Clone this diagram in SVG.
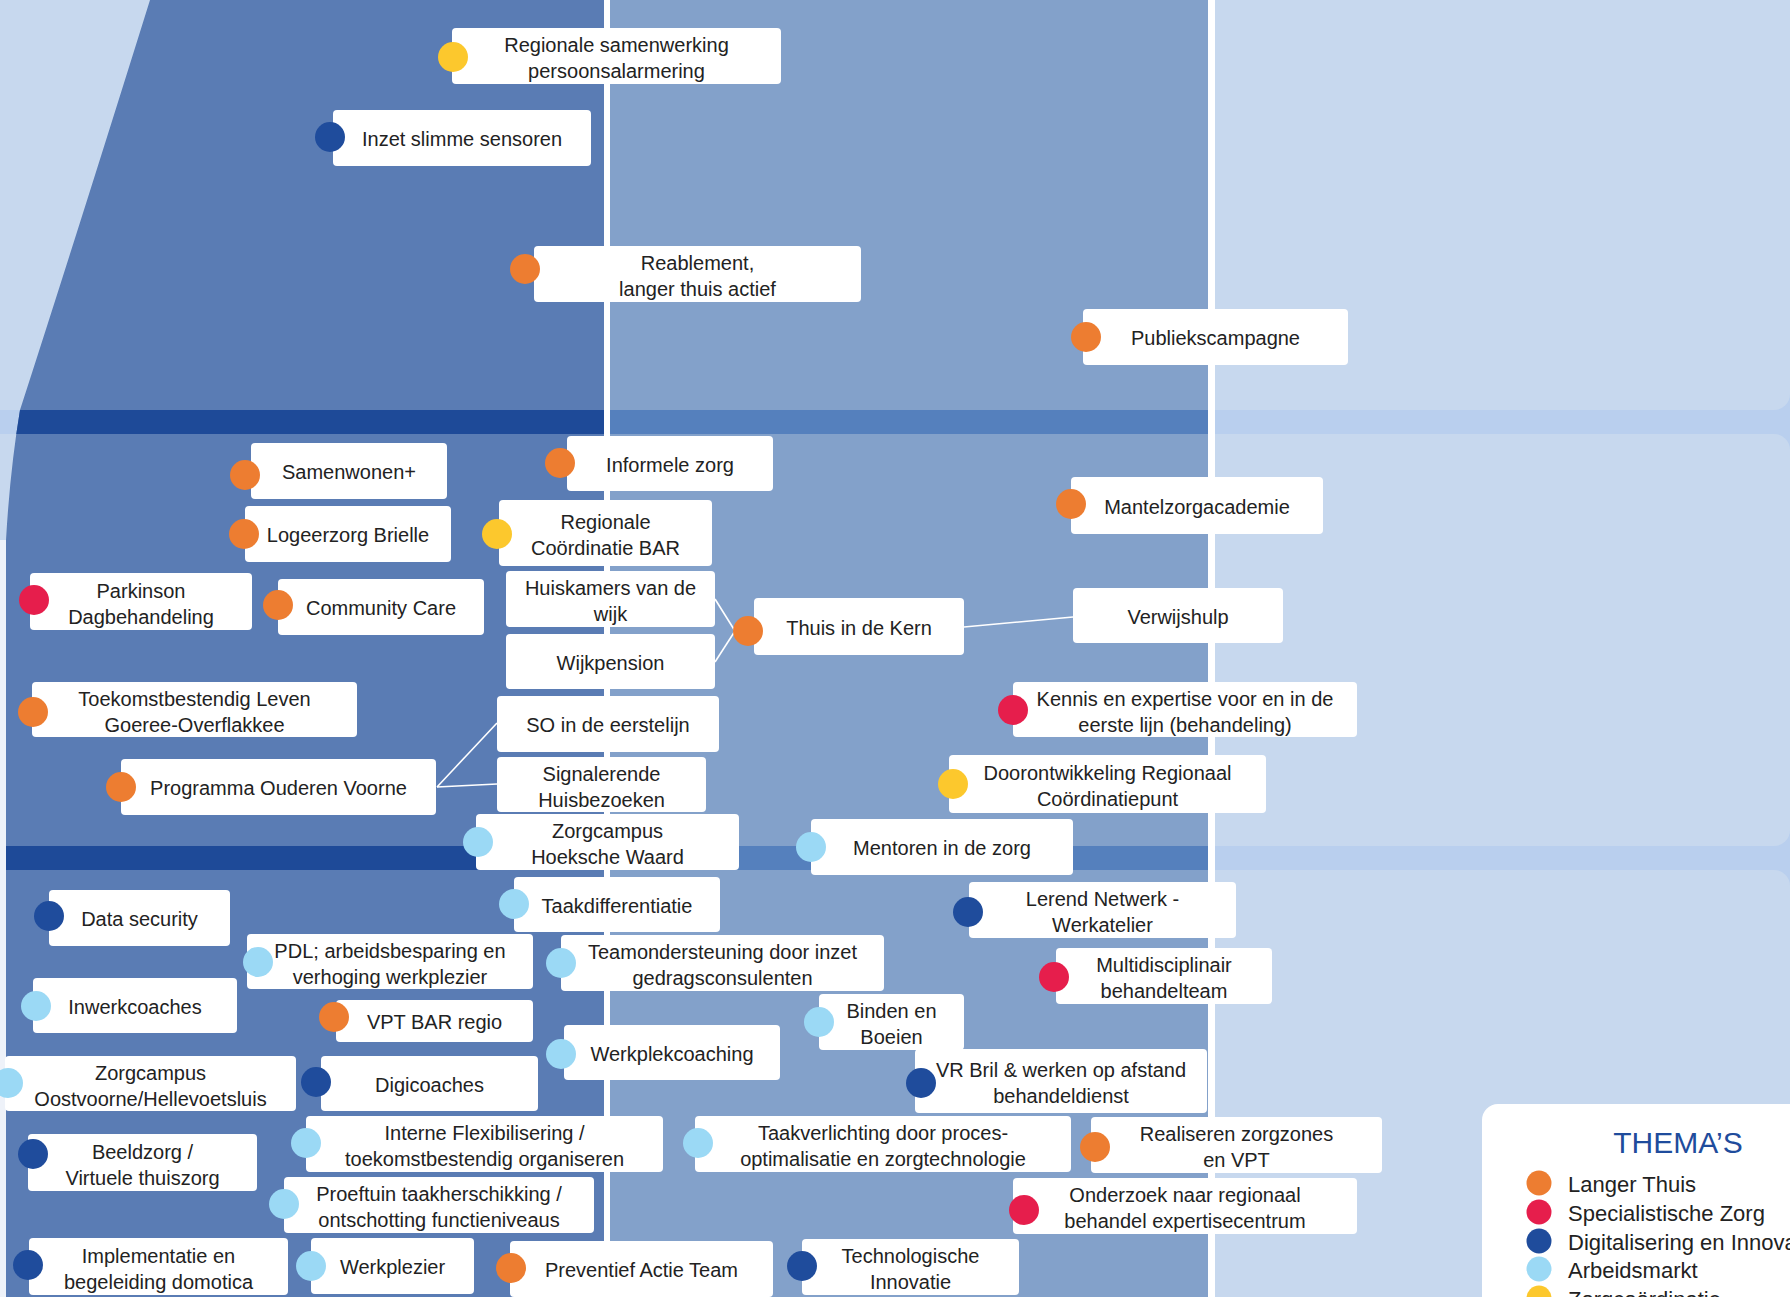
<svg xmlns="http://www.w3.org/2000/svg" width="1790" height="1297" viewBox="0 0 1790 1297">
<style>
.box{fill:#ffffff}
.t{font-family:"Liberation Sans",Arial,sans-serif;font-size:20px;fill:#222222;text-anchor:middle}
.o{fill:#ed7d31}.r{fill:#e61e4c}.db{fill:#1f4c9c}.lb{fill:#9bd9f5}.y{fill:#fcc82d}
.lg{font-family:"Liberation Sans",Arial,sans-serif;font-size:22px;fill:#222222}
.conn{stroke:#ffffff;stroke-width:1.6;fill:none}
</style>
<defs>
<clipPath id="leftClip"><path d="M150,0 L604,0 L604,1297 L6,1297 L6,540 Q10,470 20,410 Q75,240 150,0 Z"/></clipPath>
</defs>
<g id="background">
<rect x="0" y="0" width="1790" height="1297" fill="#b9cfee"/>
<rect x="0" y="0" width="1100" height="410" fill="#c7d8ee"/>
<rect x="0" y="434" width="1100" height="412" fill="#c7d8ee"/>
<rect x="0" y="870" width="1100" height="427" fill="#c7d8ee"/>
<rect x="1000" y="-30" width="790" height="440" rx="16" fill="#c7d8ee"/>
<rect x="1000" y="434" width="790" height="412" rx="16" fill="#c7d8ee"/>
<rect x="1000" y="870" width="790" height="460" rx="16" fill="#c7d8ee"/>
<rect x="0" y="540" width="6" height="757" fill="#eef2f9"/>
<rect x="610" y="0" width="598" height="1297" fill="#83a1ca"/>
<rect x="610" y="410" width="598" height="24" fill="#5580bd"/>
<rect x="610" y="846" width="598" height="24" fill="#5580bd"/>
<g clip-path="url(#leftClip)">
<rect x="0" y="0" width="610" height="1297" fill="#5a7cb4"/>
<rect x="0" y="410" width="610" height="24" fill="#1e4a98"/>
<rect x="0" y="846" width="610" height="24" fill="#1e4a98"/>
</g>
<rect x="604" y="0" width="6" height="1297" fill="#ffffff"/>
<rect x="1208" y="0" width="7" height="1297" fill="#ffffff"/>
</g>
<g id="connectors">
<line class="conn" x1="715" y1="599" x2="735" y2="631"/>
<line class="conn" x1="715" y1="662" x2="735" y2="631"/>
<line class="conn" x1="964" y1="627" x2="1073" y2="617"/>
<line class="conn" x1="437" y1="787" x2="497" y2="723"/>
<line class="conn" x1="437" y1="787" x2="497" y2="784"/>
</g>
<g id="n1"><rect class="box" x="452" y="28" width="329" height="56" rx="4"/><circle class="y" cx="453" cy="57" r="15"/><text class="t"><tspan x="616.5" y="52">Regionale samenwerking</tspan><tspan x="616.5" y="78">persoonsalarmering</tspan></text></g>
<g id="n2"><rect class="box" x="333" y="110" width="258" height="56" rx="4"/><circle class="db" cx="330" cy="137" r="15"/><text class="t" x="462" y="146">Inzet slimme sensoren</text></g>
<g id="n3"><rect class="box" x="534" y="246" width="327" height="56" rx="4"/><circle class="o" cx="525" cy="269" r="15"/><text class="t"><tspan x="697.5" y="270">Reablement,</tspan><tspan x="697.5" y="296">langer thuis actief</tspan></text></g>
<g id="n4"><rect class="box" x="1083" y="309" width="265" height="56" rx="4"/><circle class="o" cx="1086" cy="337" r="15"/><text class="t" x="1215.5" y="345">Publiekscampagne</text></g>
<g id="n5"><rect class="box" x="251" y="443" width="196" height="56" rx="4"/><circle class="o" cx="245" cy="475" r="15"/><text class="t" x="349" y="479">Samenwonen+</text></g>
<g id="n6"><rect class="box" x="567" y="436" width="206" height="55" rx="4"/><circle class="o" cx="560" cy="463" r="15"/><text class="t" x="670" y="471.5">Informele zorg</text></g>
<g id="n7"><rect class="box" x="1071" y="477" width="252" height="57" rx="4"/><circle class="o" cx="1071" cy="504" r="15"/><text class="t" x="1197" y="513.5">Mantelzorgacademie</text></g>
<g id="n8"><rect class="box" x="245" y="506" width="206" height="56" rx="4"/><circle class="o" cx="244" cy="534" r="15"/><text class="t" x="348" y="542">Logeerzorg Brielle</text></g>
<g id="n9"><rect class="box" x="499" y="500" width="213" height="66" rx="4"/><circle class="y" cx="497" cy="534" r="15"/><text class="t"><tspan x="605.5" y="529">Regionale</tspan><tspan x="605.5" y="555">Coördinatie BAR</tspan></text></g>
<g id="n10"><rect class="box" x="30" y="573" width="222" height="57" rx="4"/><circle class="r" cx="34" cy="600" r="15"/><text class="t"><tspan x="141" y="597.5">Parkinson</tspan><tspan x="141" y="623.5">Dagbehandeling</tspan></text></g>
<g id="n11"><rect class="box" x="278" y="579" width="206" height="56" rx="4"/><circle class="o" cx="278" cy="605" r="15"/><text class="t" x="381" y="615">Community Care</text></g>
<g id="n12"><rect class="box" x="506" y="571" width="209" height="56" rx="4"/><text class="t"><tspan x="610.5" y="595">Huiskamers van de</tspan><tspan x="610.5" y="621">wijk</tspan></text></g>
<g id="n13"><rect class="box" x="506" y="634" width="209" height="55" rx="4"/><text class="t" x="610.5" y="669.5">Wijkpension</text></g>
<g id="n14"><rect class="box" x="754" y="598" width="210" height="57" rx="4"/><circle class="o" cx="748" cy="631" r="15"/><text class="t" x="859" y="634.5">Thuis in de Kern</text></g>
<g id="n15"><rect class="box" x="1073" y="588" width="210" height="55" rx="4"/><text class="t" x="1178" y="623.5">Verwijshulp</text></g>
<g id="n16"><rect class="box" x="32" y="682" width="325" height="55" rx="4"/><circle class="o" cx="33" cy="712" r="15"/><text class="t"><tspan x="194.5" y="705.5">Toekomstbestendig Leven</tspan><tspan x="194.5" y="731.5">Goeree-Overflakkee</tspan></text></g>
<g id="n17"><rect class="box" x="497" y="696" width="222" height="56" rx="4"/><text class="t" x="608" y="732">SO in de eerstelijn</text></g>
<g id="n18"><rect class="box" x="1013" y="682" width="344" height="55" rx="4"/><circle class="r" cx="1013" cy="710" r="15"/><text class="t"><tspan x="1185" y="705.5">Kennis en expertise voor en in de</tspan><tspan x="1185" y="731.5">eerste lijn (behandeling)</tspan></text></g>
<g id="n19"><rect class="box" x="121" y="759" width="315" height="56" rx="4"/><circle class="o" cx="121" cy="787" r="15"/><text class="t" x="278.5" y="795">Programma Ouderen Voorne</text></g>
<g id="n20"><rect class="box" x="497" y="757" width="209" height="55" rx="4"/><text class="t"><tspan x="601.5" y="780.5">Signalerende</tspan><tspan x="601.5" y="806.5">Huisbezoeken</tspan></text></g>
<g id="n21"><rect class="box" x="949" y="755" width="317" height="58" rx="4"/><circle class="y" cx="953" cy="784" r="15"/><text class="t"><tspan x="1107.5" y="780">Doorontwikkeling Regionaal</tspan><tspan x="1107.5" y="806">Coördinatiepunt</tspan></text></g>
<g id="n22"><rect class="box" x="476" y="814" width="263" height="56" rx="4"/><circle class="lb" cx="478" cy="842" r="15"/><text class="t"><tspan x="607.5" y="838">Zorgcampus</tspan><tspan x="607.5" y="864">Hoeksche Waard</tspan></text></g>
<g id="n23"><rect class="box" x="811" y="819" width="262" height="56" rx="4"/><circle class="lb" cx="811" cy="847" r="15"/><text class="t" x="942" y="855">Mentoren in de zorg</text></g>
<g id="n24"><rect class="box" x="49" y="890" width="181" height="56" rx="4"/><circle class="db" cx="49" cy="916" r="15"/><text class="t" x="139.5" y="926">Data security</text></g>
<g id="n25"><rect class="box" x="514" y="877" width="206" height="55" rx="4"/><circle class="lb" cx="514" cy="904" r="15"/><text class="t" x="617" y="912.5">Taakdifferentiatie</text></g>
<g id="n26"><rect class="box" x="969" y="882" width="267" height="56" rx="4"/><circle class="db" cx="968" cy="912" r="15"/><text class="t"><tspan x="1102.5" y="906">Lerend Netwerk -</tspan><tspan x="1102.5" y="932">Werkatelier</tspan></text></g>
<g id="n27"><rect class="box" x="247" y="934" width="286" height="55" rx="4"/><circle class="lb" cx="258" cy="962" r="15"/><text class="t"><tspan x="390" y="957.5">PDL; arbeidsbesparing en</tspan><tspan x="390" y="983.5">verhoging werkplezier</tspan></text></g>
<g id="n28"><rect class="box" x="561" y="935" width="323" height="56" rx="4"/><circle class="lb" cx="561" cy="963" r="15"/><text class="t"><tspan x="722.5" y="959">Teamondersteuning door inzet</tspan><tspan x="722.5" y="985">gedragsconsulenten</tspan></text></g>
<g id="n29"><rect class="box" x="1056" y="948" width="216" height="56" rx="4"/><circle class="r" cx="1054" cy="977" r="15"/><text class="t"><tspan x="1164" y="972">Multidisciplinair</tspan><tspan x="1164" y="998">behandelteam</tspan></text></g>
<g id="n30"><rect class="box" x="33" y="978" width="204" height="55" rx="4"/><circle class="lb" cx="36" cy="1006" r="15"/><text class="t" x="135" y="1013.5">Inwerkcoaches</text></g>
<g id="n31"><rect class="box" x="336" y="1000" width="197" height="42" rx="4"/><circle class="o" cx="334" cy="1017" r="15"/><text class="t" x="434.5" y="1029">VPT BAR regio</text></g>
<g id="n32"><rect class="box" x="819" y="994" width="145" height="56" rx="4"/><circle class="lb" cx="819" cy="1022" r="15"/><text class="t"><tspan x="891.5" y="1018">Binden en</tspan><tspan x="891.5" y="1044">Boeien</tspan></text></g>
<g id="n33"><rect class="box" x="564" y="1025" width="216" height="55" rx="4"/><circle class="lb" cx="561" cy="1054" r="15"/><text class="t" x="672" y="1060.5">Werkplekcoaching</text></g>
<g id="n34"><rect class="box" x="5" y="1056" width="291" height="55" rx="4"/><circle class="lb" cx="8" cy="1083" r="15"/><text class="t"><tspan x="150.5" y="1079.5">Zorgcampus</tspan><tspan x="150.5" y="1105.5">Oostvoorne/Hellevoetsluis</tspan></text></g>
<g id="n35"><rect class="box" x="321" y="1056" width="217" height="55" rx="4"/><circle class="db" cx="316" cy="1082" r="15"/><text class="t" x="429.5" y="1091.5">Digicoaches</text></g>
<g id="n36"><rect class="box" x="915" y="1049" width="292" height="64" rx="4"/><circle class="db" cx="921" cy="1083" r="15"/><text class="t"><tspan x="1061" y="1077">VR Bril &amp; werken op afstand</tspan><tspan x="1061" y="1103">behandeldienst</tspan></text></g>
<g id="n37"><rect class="box" x="28" y="1134" width="229" height="57" rx="4"/><circle class="db" cx="33" cy="1154" r="15"/><text class="t"><tspan x="142.5" y="1158.5">Beeldzorg /</tspan><tspan x="142.5" y="1184.5">Virtuele thuiszorg</tspan></text></g>
<g id="n38"><rect class="box" x="306" y="1116" width="357" height="56" rx="4"/><circle class="lb" cx="306" cy="1143" r="15"/><text class="t"><tspan x="484.5" y="1140">Interne Flexibilisering /</tspan><tspan x="484.5" y="1166">toekomstbestendig organiseren</tspan></text></g>
<g id="n39"><rect class="box" x="695" y="1116" width="376" height="56" rx="4"/><circle class="lb" cx="698" cy="1143" r="15"/><text class="t"><tspan x="883" y="1140">Taakverlichting door proces-</tspan><tspan x="883" y="1166">optimalisatie en zorgtechnologie</tspan></text></g>
<g id="n40"><rect class="box" x="1091" y="1117" width="291" height="56" rx="4"/><circle class="o" cx="1095" cy="1147" r="15"/><text class="t"><tspan x="1236.5" y="1141">Realiseren zorgzones</tspan><tspan x="1236.5" y="1167">en VPT</tspan></text></g>
<g id="n41"><rect class="box" x="284" y="1177" width="310" height="56" rx="4"/><circle class="lb" cx="284" cy="1204" r="15"/><text class="t"><tspan x="439" y="1201">Proeftuin taakherschikking /</tspan><tspan x="439" y="1227">ontschotting functieniveaus</tspan></text></g>
<g id="n42"><rect class="box" x="1013" y="1178" width="344" height="56" rx="4"/><circle class="r" cx="1024" cy="1210" r="15"/><text class="t"><tspan x="1185" y="1202">Onderzoek naar regionaal</tspan><tspan x="1185" y="1228">behandel expertisecentrum</tspan></text></g>
<g id="n43"><rect class="box" x="29" y="1238" width="259" height="57" rx="4"/><circle class="db" cx="28" cy="1265" r="15"/><text class="t"><tspan x="158.5" y="1262.5">Implementatie en</tspan><tspan x="158.5" y="1288.5">begeleiding domotica</tspan></text></g>
<g id="n44"><rect class="box" x="311" y="1238" width="163" height="56" rx="4"/><circle class="lb" cx="311" cy="1266" r="15"/><text class="t" x="392.5" y="1274">Werkplezier</text></g>
<g id="n45"><rect class="box" x="510" y="1241" width="263" height="56" rx="4"/><circle class="o" cx="511" cy="1268" r="15"/><text class="t" x="641.5" y="1277">Preventief Actie Team</text></g>
<g id="n46"><rect class="box" x="802" y="1239" width="217" height="56" rx="4"/><circle class="db" cx="802" cy="1266" r="15"/><text class="t"><tspan x="910.5" y="1263">Technologische</tspan><tspan x="910.5" y="1289">Innovatie</tspan></text></g>
<g id="legend">
<rect x="1482" y="1104" width="340" height="230" rx="16" fill="#ffffff"/>
<text x="1678" y="1153" font-family="Liberation Sans, Arial, sans-serif" font-size="30" fill="#1f4c9c" text-anchor="middle">THEMA’S</text>
<circle class="o" cx="1539" cy="1183" r="12.5"/><text class="lg" x="1568" y="1192">Langer Thuis</text>
<circle class="r" cx="1539" cy="1212" r="12.5"/><text class="lg" x="1568" y="1221">Specialistische Zorg</text>
<circle class="db" cx="1539" cy="1241" r="12.5"/><text class="lg" x="1568" y="1250">Digitalisering en Innovatie</text>
<circle class="lb" cx="1539" cy="1269" r="12.5"/><text class="lg" x="1568" y="1278">Arbeidsmarkt</text>
<circle class="y" cx="1539" cy="1298" r="12.5"/><text class="lg" x="1568" y="1307">Zorgcoördinatie</text>
</g>
</svg>
